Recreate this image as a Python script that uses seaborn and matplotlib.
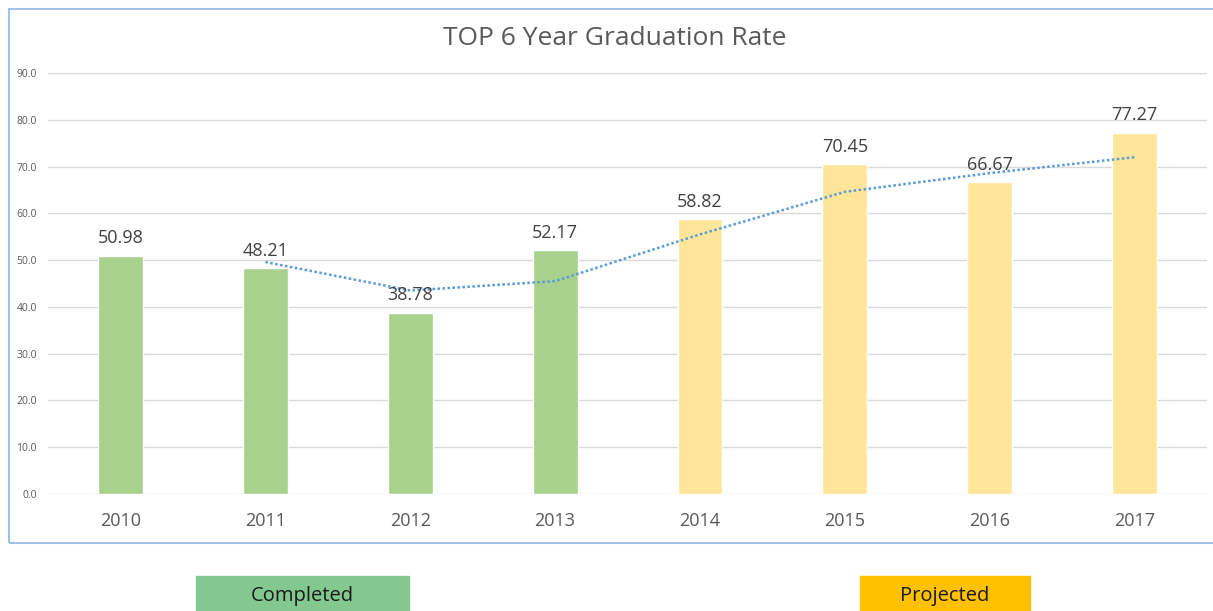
import numpy as np
import pandas as pd
import matplotlib
matplotlib.use("Agg")
import matplotlib.pyplot as plt
import seaborn as sns
from matplotlib.patches import Rectangle

# data
years = ["2010", "2011", "2012", "2013", "2014", "2015", "2016", "2017"]
rates = [50.98, 48.21, 38.78, 52.17, 58.82, 70.45, 66.67, 77.27]
status = ["Completed"] * 4 + ["Projected"] * 4
# dotted trend line (2-period moving average), starts at 2011
trend_years = ["2011", "2012", "2013", "2014", "2015", "2016", "2017"]
trend_vals = [49.6, 43.5, 45.5, 55.5, 64.6, 68.6, 72.0]
yticks = [0, 10, 20, 30, 40, 50, 60, 70, 80, 90]

df = pd.DataFrame({"year": years, "rate": rates, "status": status})

sns.set_theme(style="white")
plt.rcParams['font.family'] = ['Open Sans', 'DejaVu Sans']

fig = plt.figure(figsize=(12.13, 6.11), dpi=100)
ax = fig.add_axes([0.0396, 0.1915, 0.9555, 0.689])

sns.barplot(data=df, x="year", y="rate", hue="status",
            palette={"Completed": "#A9D18E", "Projected": "#FFE699"},
            width=0.31, dodge=False, legend=False, ax=ax, saturation=1)

for cont in ax.containers:
    ax.bar_label(cont, fmt="%.2f", padding=6, fontsize=13, color="#404040")

pos = [years.index(y) for y in trend_years]
ax.plot(pos, trend_vals, linestyle=(0, (1, 1)), color="#5B9BD5", lw=1.8)

ax.set_ylim(0, 90)
ax.set_xlim(-0.5, len(years) - 0.5)
ax.set_yticks(yticks)
ax.set_yticklabels([f"{v:.1f}" for v in yticks], fontsize=7.5, color="#595959")
ax.tick_params(axis="x", labelsize=13, colors="#595959", pad=13, length=0)
ax.tick_params(axis="y", length=0, pad=8)
ax.yaxis.grid(True, color="#D9D9D9", lw=1)
ax.set_axisbelow(True)
for s in ax.spines.values():
    s.set_visible(False)
ax.set_xlabel("")
ax.set_ylabel("")

fig.text(0.507, 0.937, "TOP 6 Year Graduation Rate", ha="center", va="center",
         fontsize=19, color="#595959")

# chart frame
fig.patches.append(Rectangle((9 / 1213, (611 - 543) / 611), 1.0, (543 - 9) / 611,
                             transform=fig.transFigure, fill=False,
                             edgecolor="#9DC3E6", lw=1.5))

# legend boxes below the chart
for x0, x1, col, label in [(196, 409, "#82C88F", "Completed"),
                           (860, 1030, "#FFC000", "Projected")]:
    fig.patches.append(Rectangle((x0 / 1213, 0), (x1 - x0) / 1213, 35 / 611,
                                 transform=fig.transFigure, color=col))
    fig.text((x0 + x1) / 2 / 1213, 15 / 611, label, ha="center", va="center",
             fontsize=14.5, color="#1a1a1a")

fig.savefig("out.png", dpi=100)
